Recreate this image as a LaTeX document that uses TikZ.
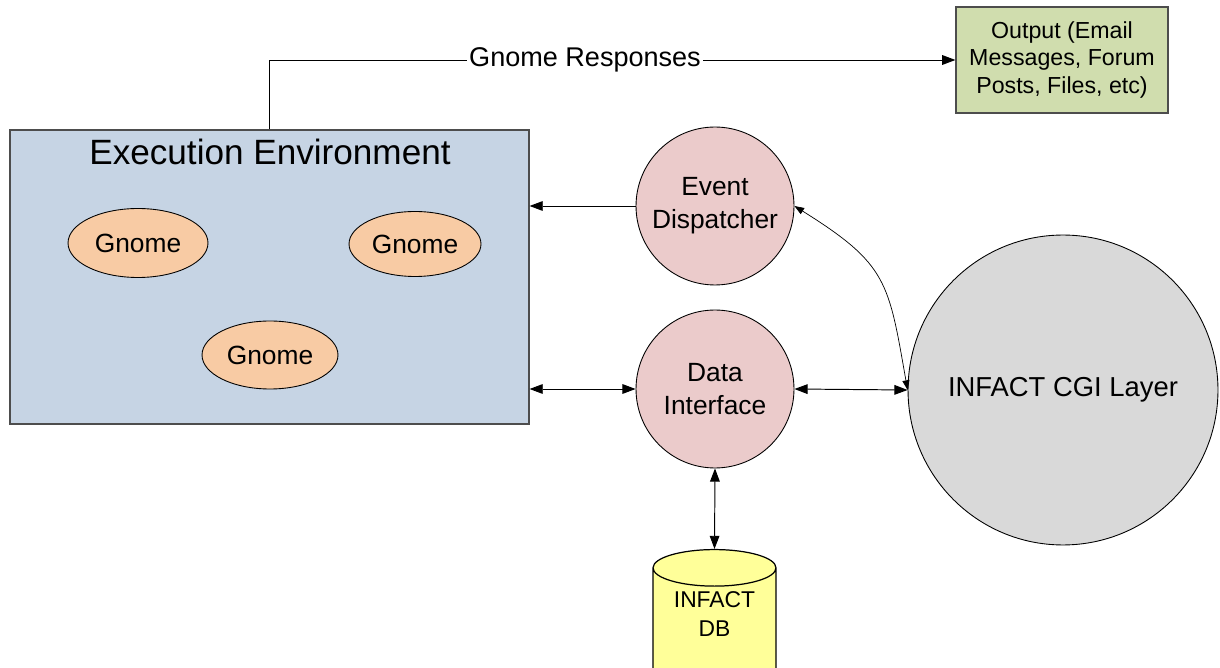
\documentclass[tikz,border=0pt]{standalone}
\usepackage{fontspec}
\setmainfont{Liberation Sans}
\usetikzlibrary{arrows.meta,shapes.geometric}
\definecolor{envfill}{HTML}{C6D4E4}
\definecolor{gnomefill}{HTML}{F8CBA4}
\definecolor{hubfill}{HTML}{EBCBCB}
\definecolor{cgifill}{HTML}{D9D9D9}
\definecolor{outfill}{HTML}{D0DDAE}
\definecolor{dbfill}{HTML}{FFFF99}
\definecolor{edge}{HTML}{4D4D4D}
\tikzset{
  env/.style={draw=edge, fill=envfill, line width=0.7pt, minimum width=10.38cm, minimum height=5.88cm},
  gnome/.style={ellipse, draw=black, fill=gnomefill, line width=0.5pt, inner sep=0pt, font=\fontsize{15}{18}\selectfont},
  hub/.style={circle, draw=black, fill=hubfill, line width=0.5pt, minimum size=3.16cm, inner sep=0pt, align=center, font=\fontsize{15}{18.7}\selectfont},
  outbox/.style={draw=edge, fill=outfill, line width=0.7pt, minimum width=4.24cm, minimum height=2.12cm, inner sep=0pt, align=center, font=\fontsize{13.2}{15.9}\selectfont},
  store/.style={cylinder, shape border rotate=90, aspect=0.45, draw=black, fill=dbfill, line width=0.7pt, minimum width=2.46cm, minimum height=3.24cm, inner sep=0pt, align=center, font=\fontsize{13}{16}\selectfont},
  link/.style={draw=black, line width=0.55pt, >={Triangle[length=7.5pt,width=5.5pt]}},
  thin/.style={draw=black, line width=0.4pt, >={Triangle[length=5.5pt,width=4pt]}},
}

\begin{document}
\begin{tikzpicture}[x=0.02cm, y=-0.02cm]
  \useasboundingbox (0,0) rectangle (1220,668);

  % execution environment with its gnomes
  \node[env] (env) at (269.5,277) {};
  \node[font=\fontsize{20}{22}\selectfont] (envtitle) at (270,152) {Execution Environment};
  \node[gnome, minimum width=2.8cm, minimum height=1.38cm] (g1) at (138,243) {Gnome};
  \node[gnome, minimum width=2.64cm, minimum height=1.3cm] (g2) at (415,244) {Gnome};
  \node[gnome, minimum width=2.72cm, minimum height=1.36cm] (g3) at (270,355) {Gnome};

  % dispatcher, data interface, cgi layer
  \node[hub] (ed) at (715,206) {Event\\Dispatcher};
  \node[hub] (di) at (715,389) {Data\\Interface};
  \node[circle, draw=black, fill=cgifill, line width=0.5pt, minimum size=6.2cm, font=\fontsize{15.6}{18}\selectfont] (cgi) at (1063,390) {INFACT CGI Layer};

  \node[outbox] (out) at (1062,60) {Output (Email\\Messages, Forum\\Posts, Files, etc)};

  % db runs off the bottom edge, text pushed up with the depth
  \node[store, text depth=1.04cm] (db) at (714.5,640) {INFACT\\DB};

  \draw[link,->] (env.north) |- node[pos=0.73, fill=white, inner sep=1pt, font=\fontsize{15.4}{17}\selectfont] {Gnome Responses} (out.west);
  \draw[link,->] (ed.west) -- (env.east |- ed.west);
  \draw[link,<->] (env.east |- di.west) -- (di.west);
  \draw[link,<->] (di.east) -- (cgi.west);
  \draw[link,<->] (di.south) -- (db.north);
  \draw[thin,<->] (ed.east) to[out=-32, in=100, looseness=1.3] (cgi.west);
\end{tikzpicture}
\end{document}
